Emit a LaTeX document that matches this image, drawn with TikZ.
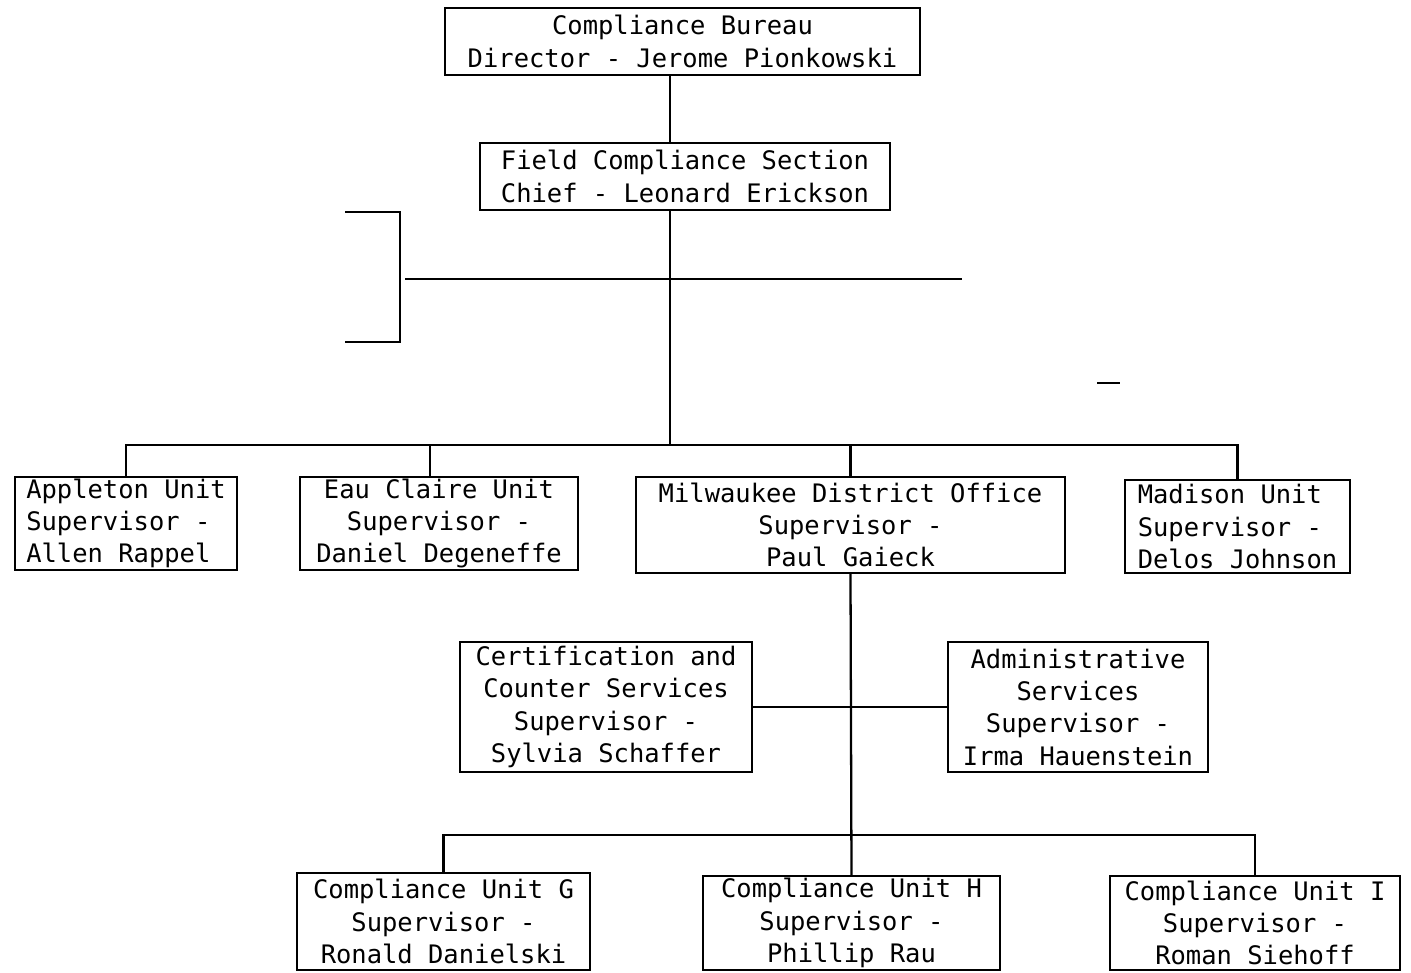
\documentclass[tikz,border=0pt]{standalone}
\usepackage{fontspec}
\setmonofont{DejaVu Sans Mono}

\begin{document}
\begin{tikzpicture}[
    orgbox/.style={draw, line width=1.3pt, align=center, inner xsep=2pt, inner ysep=1pt,
        font=\ttfamily\fontsize{14.5}{18.4}\selectfont},
    leftbox/.style={orgbox, align=left},
    link/.style={line width=1.3pt},
]
\useasboundingbox (0,0) rectangle (28.22,-19.46);

% top of the chart
\node[orgbox, minimum width=9.5cm, minimum height=1.34cm] (bureau) at (13.65,-0.83)
    {Compliance Bureau\\Director - Jerome Pionkowski};
\node[orgbox, minimum width=8.2cm, minimum height=1.34cm] (field) at (13.7,-3.53)
    {Field Compliance Section\\Chief - Leonard Erickson};

% units
\node[leftbox, minimum width=4.44cm, minimum height=1.86cm] (appleton) at (2.52,-10.47)
    {Appleton Unit\\Supervisor -\\Allen Rappel};
\node[orgbox, minimum width=5.56cm, minimum height=1.86cm] (eauclaire) at (8.78,-10.47)
    {Eau Claire Unit\\Supervisor -\\Daniel Degeneffe};
\node[orgbox, minimum width=8.58cm, minimum height=1.92cm] (milwaukee) at (17.01,-10.5)
    {Milwaukee District Office\\Supervisor -\\Paul Gaieck};
\node[leftbox, minimum width=4.5cm, minimum height=1.86cm] (madison) at (24.75,-10.53)
    {Madison Unit\\Supervisor -\\Delos Johnson};

% Milwaukee staff
\node[orgbox, minimum width=5.84cm, minimum height=2.6cm] (certif) at (12.12,-14.14)
    {Certification and\\Counter Services\\Supervisor -\\Sylvia Schaffer};
\node[orgbox, minimum width=5.2cm, minimum height=2.6cm] (admin) at (21.56,-14.14)
    {Administrative\\Services\\Supervisor -\\Irma Hauenstein};

% Milwaukee units
\node[orgbox, minimum width=5.86cm, minimum height=1.94cm] (unitg) at (8.87,-18.43)
    {Compliance Unit G\\Supervisor -\\Ronald Danielski};
\node[orgbox, minimum width=5.94cm, minimum height=1.88cm] (unith) at (17.03,-18.46)
    {Compliance Unit H\\Supervisor -\\Phillip Rau};
\node[orgbox, minimum width=5.8cm, minimum height=1.88cm] (uniti) at (25.1,-18.46)
    {Compliance Unit I\\Supervisor -\\Roman Siehoff};

\coordinate (spine) at (13.4,-8.9);
\coordinate (bus) at (17.0,-16.7);

% connectors
\draw[link] (spine |- bureau.south) -- (spine |- field.north);
\draw[link] (spine |- field.south) -- (spine);
\draw[link] (appleton.north) |- (spine) -| (madison.north);
\draw[link] ([xshift=-1.8mm]eauclaire.north) -- ([xshift=-1.8mm]eauclaire.north |- spine);
\draw[link] (milwaukee.north) -- (milwaukee.north |- spine);
\draw[link] (milwaukee.south) -- (unith.north);
\draw[link] (unitg.north) |- (bus) -| (uniti.north);
\draw[link] (certif.east) -- (admin.west);

% bracket and cross line
\coordinate (brtop) at (6.9,-4.24);
\coordinate (brbot) at (6.9,-6.84);
\coordinate (crossl) at (8.1,-5.58);
\coordinate (crossr) at (19.24,-5.58);
\draw[link] (brtop) -- ++(1.1,0) |- (brbot);
\draw[link] (crossl) -- (crossr);
\draw[link] (21.94,-7.66) -- (22.4,-7.66);
\end{tikzpicture}
\end{document}
